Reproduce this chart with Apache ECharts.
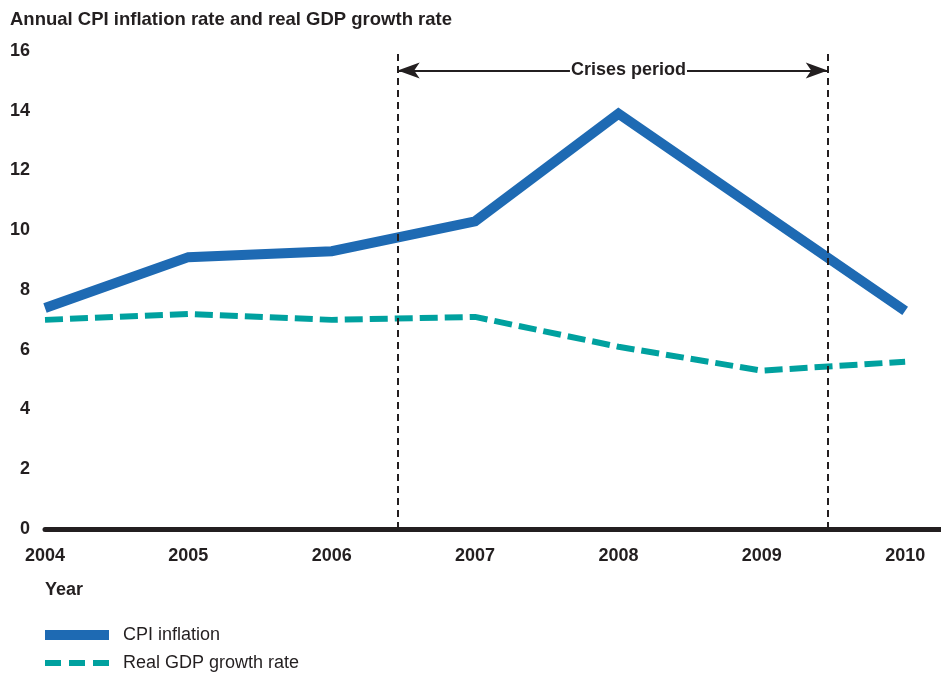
<!DOCTYPE html>
<html>
<head>
<meta charset="utf-8">
<script src="https://cdn.jsdelivr.net/npm/echarts@6/dist/echarts.min.js"></script>
<style>
  html, body { margin: 0; padding: 0; background: #fff; }
  #chart { width: 941px; height: 673px; }
</style>
</head>
<body>
<div id="chart"></div>
<script>
// Years on the horizontal axis
var years = [2004, 2005, 2006, 2007, 2008, 2009, 2010];
// Annual CPI inflation rate (%)
var cpiInflation = [7.4, 9.1, 9.3, 10.3, 13.9, 10.6, 7.3];
// Real GDP growth rate (%)
var gdpGrowth = [7.0, 7.2, 7.0, 7.1, 6.1, 5.3, 5.6];
// Value-axis ticks
var yTicks = [0, 2, 4, 6, 8, 10, 12, 14, 16];
// Crises period bounds and annotation placement (axis units)
var crisisStart = 2006.46;
var crisisEnd = 2009.46;
var crisisArrowLevel = 15.35;
var crisisLabelYear = 2008.07;

var ink = '#231f20';
var font = '"Liberation Sans", Arial, Helvetica, sans-serif';

function pairs(xs, ys) {
  return xs.map(function (x, i) { return [x, ys[i]]; });
}

var chart = echarts.init(document.getElementById('chart'), null, { renderer: 'canvas' });

chart.setOption({
  animation: false,
  backgroundColor: '#ffffff',
  textStyle: { fontFamily: font, color: ink },
  title: [
    {
      text: 'Annual CPI inflation rate and real GDP growth rate',
      left: 10, top: 10, padding: 0,
      textStyle: { fontFamily: font, fontSize: 18.5, fontWeight: 'bold', color: ink }
    },
    {
      text: 'Year',
      left: 45, top: 581, padding: 0,
      textStyle: { fontFamily: font, fontSize: 18, fontWeight: 'bold', color: ink }
    }
  ],
  legend: [
    {
      left: 45, top: 626, padding: 0,
      itemWidth: 64, itemHeight: 10,
      textStyle: { fontFamily: font, fontSize: 18, color: ink, padding: [0, 0, 0, 9] },
      data: [{ name: 'CPI inflation', icon: 'rect' }]
    },
    {
      left: 42, top: 654, padding: 0,
      itemWidth: 67, itemHeight: 18,
      textStyle: { fontFamily: font, fontSize: 18, color: ink, padding: [0, 0, 0, 6] },
      data: [{
        name: 'Real GDP growth rate',
        itemStyle: { opacity: 0 },
        lineStyle: { width: 6, type: [16, 8], cap: 'butt' }
      }]
    }
  ],
  grid: { left: 45, right: 0, top: 51, bottom: 144, containLabel: false },
  xAxis: {
    type: 'value',
    min: years[0],
    max: years[years.length - 1] + 0.25,
    interval: 1,
    axisLine: { show: true, onZero: true, lineStyle: { color: ink, width: 5 } },
    axisTick: { show: false },
    splitLine: { show: false },
    axisLabel: {
      margin: 18,
      fontFamily: font, fontSize: 18, fontWeight: 'bold', color: ink,
      showMaxLabel: false,
      formatter: function (v) { return years.indexOf(v) >= 0 ? String(v) : ''; }
    }
  },
  yAxis: {
    type: 'value',
    min: yTicks[0],
    max: yTicks[yTicks.length - 1],
    interval: yTicks[1] - yTicks[0],
    axisLine: { show: false },
    axisTick: { show: false },
    splitLine: { show: false },
    axisLabel: {
      margin: 15,
      fontFamily: font, fontSize: 18, fontWeight: 'bold', color: ink
    }
  },
  series: [
    {
      name: 'CPI inflation',
      type: 'line',
      data: pairs(years, cpiInflation),
      symbol: 'none',
      color: '#1e6ab3',
      lineStyle: { color: '#1e6ab3', width: 10, join: 'miter', cap: 'butt' },
      z: 3
    },
    {
      name: 'Real GDP growth rate',
      type: 'line',
      data: pairs(years, gdpGrowth),
      symbol: 'none',
      color: '#00a19f',
      lineStyle: { color: '#00a19f', width: 6, type: [18, 7], cap: 'butt' },
      z: 2,
      markLine: {
        silent: true,
        symbol: ['none', 'none'],
        label: { show: false },
        data: [
          { xAxis: crisisStart, lineStyle: { color: ink, width: 2, type: [7, 5] } },
          { xAxis: crisisEnd, lineStyle: { color: ink, width: 2, type: [7, 5] } },
          [
            { coord: [crisisStart, crisisArrowLevel], symbol: 'arrow', symbolSize: [12, 22],
              lineStyle: { color: ink, width: 2, type: 'solid' } },
            { coord: [crisisEnd, crisisArrowLevel], symbol: 'arrow', symbolSize: [12, 22] }
          ]
        ]
      },
      markPoint: {
        silent: true,
        symbol: 'rect',
        symbolSize: 0,
        data: [{
          coord: [crisisLabelYear, crisisArrowLevel],
          label: {
            show: true,
            position: 'inside',
            formatter: 'Crises period',
            fontFamily: font, fontSize: 18, fontWeight: 'bold', color: ink,
            backgroundColor: '#ffffff',
            padding: [0, 1]
          }
        }]
      }
    }
  ]
});
</script>
</body>
</html>
